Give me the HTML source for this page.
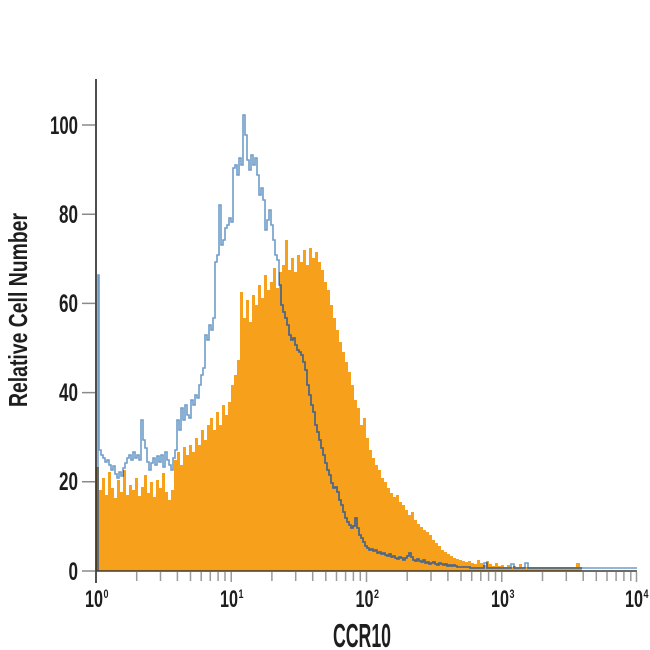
<!DOCTYPE html>
<html>
<head>
<meta charset="utf-8">
<style>
  html, body { margin:0; padding:0; background:#ffffff; }
  svg { display:block; }
  text { font-family: "Liberation Sans Narrow", "Liberation Sans", "DejaVu Sans Condensed", sans-serif; font-weight:bold; fill:#1e1e1e; }
</style>
</head>
<body>
<svg width="650" height="650" viewBox="0 0 650 650" xmlns="http://www.w3.org/2000/svg">
  <defs>
    <clipPath id="oc">
      <path id="orangeShape" d="M96,571 V467 H99 V490 H102 V478 H105 V495 H108 V472 H111 V488 H114 V498 H117 V480 H120 V492 H123 V470 H126 V495 H129 V485 H132 V490 H135 V478 H138 V496 H141 V487 H144 V475 H147 V493 H150 V482 H153 V497 H156 V480 H159 V488 H162 V473 H165 V492 H168 V500 H171 V490 H174 V460 H177 V452 H180 V465 H183 V447 H186 V455 H189 V445 H192 V452 H195 V438 H198 V445 H201 V430 H204 V440 H207 V425 H210 V418 H213 V430 H216 V412 H219 V425 H222 V405 H225 V415 H228 V402 H231 V385 H234 V375 H237 V360 H240 V292 H243 V318 H246 V300 H249 V322 H252 V295 H255 V305 H258 V285 H261 V298 H264 V275 H267 V290 H270 V282 H273 V268 H276 V288 H279 V272 H282 V265 H285 V240 H288 V270 H291 V258 H294 V272 H297 V255 H300 V262 H303 V250 H306 V265 H309 V248 H312 V258 H315 V252 H318 V262 H321 V270 H324 V282 H327 V290 H330 V305 H333 V318 H336 V330 H339 V342 H342 V352 H345 V362 H348 V372 H351 V385 H354 V400 H357 V408 H360 V425 H363 V418 H366 V438 H369 V450 H372 V458 H375 V465 H378 V470 H381 V478 H384 V482 H387 V488 H390 V493 H393 V497 H396 V495 H399 V502 H402 V505 H405 V510 H408 V515 H411 V512 H414 V520 H417 V524 H420 V527 H423 V530 H426 V532 H429 V535 H432 V540 H435 V543 H438 V546 H441 V550 H444 V552 H447 V554 H450 V556 H453 V558 H456 V559 H459 V560 H462 V561 H465 V562 H468 V561 H471 V563 H474 V564 H477 V560 H480 V563 H483 V565 H486 V561 H489 V564 H492 V566 H495 V563 H498 V566 H501 V565 H504 V567 H507 V565 H510 V567 H513 V566 H516 V567 H519 V564 H522 V567 H576 V563 H580 V567 H582 V571 Z"/>
    </clipPath>
  </defs>

  <!-- orange filled histogram -->
  <path d="M96,571 V467 H99 V490 H102 V478 H105 V495 H108 V472 H111 V488 H114 V498 H117 V480 H120 V492 H123 V470 H126 V495 H129 V485 H132 V490 H135 V478 H138 V496 H141 V487 H144 V475 H147 V493 H150 V482 H153 V497 H156 V480 H159 V488 H162 V473 H165 V492 H168 V500 H171 V490 H174 V460 H177 V452 H180 V465 H183 V447 H186 V455 H189 V445 H192 V452 H195 V438 H198 V445 H201 V430 H204 V440 H207 V425 H210 V418 H213 V430 H216 V412 H219 V425 H222 V405 H225 V415 H228 V402 H231 V385 H234 V375 H237 V360 H240 V292 H243 V318 H246 V300 H249 V322 H252 V295 H255 V305 H258 V285 H261 V298 H264 V275 H267 V290 H270 V282 H273 V268 H276 V288 H279 V272 H282 V265 H285 V240 H288 V270 H291 V258 H294 V272 H297 V255 H300 V262 H303 V250 H306 V265 H309 V248 H312 V258 H315 V252 H318 V262 H321 V270 H324 V282 H327 V290 H330 V305 H333 V318 H336 V330 H339 V342 H342 V352 H345 V362 H348 V372 H351 V385 H354 V400 H357 V408 H360 V425 H363 V418 H366 V438 H369 V450 H372 V458 H375 V465 H378 V470 H381 V478 H384 V482 H387 V488 H390 V493 H393 V497 H396 V495 H399 V502 H402 V505 H405 V510 H408 V515 H411 V512 H414 V520 H417 V524 H420 V527 H423 V530 H426 V532 H429 V535 H432 V540 H435 V543 H438 V546 H441 V550 H444 V552 H447 V554 H450 V556 H453 V558 H456 V559 H459 V560 H462 V561 H465 V562 H468 V561 H471 V563 H474 V564 H477 V560 H480 V563 H483 V565 H486 V561 H489 V564 H492 V566 H495 V563 H498 V566 H501 V565 H504 V567 H507 V565 H510 V567 H513 V566 H516 V567 H519 V564 H522 V567 H576 V563 H580 V567 H582 V571 Z" fill="#f6a01c"/>

  <!-- blue outline histogram -->
  <path id="blueLine" d="M98,571 V275 H99 V450 H101 V455 H103 V458 H105 V462 H107 V460 H109 V465 H111 V470 H113 V466 H115 V474 H117 V478 H119 V472 H121 V476 H123 V468 H125 V463 H127 V458 H129 V455 H131 V460 H133 V452 H135 V458 H137 V455 H139 V460 H141 V420 H143 V440 H145 V448 H147 V462 H149 V470 H151 V463 H153 V458 H155 V465 H157 V456 H159 V462 H161 V455 H163 V467 H165 V452 H167 V460 H169 V465 H171 V470 H173 V458 H175 V450 H177 V420 H179 V430 H181 V408 H183 V420 H185 V405 H187 V415 H189 V418 H191 V400 H193 V405 H195 V395 H197 V398 H199 V385 H201 V375 H203 V368 H205 V335 H207 V340 H209 V325 H211 V330 H213 V318 H215 V262 H217 V255 H219 V205 H221 V245 H223 V240 H225 V228 H227 V225 H229 V218 H231 V222 H233 V168 H235 V165 H237 V175 H239 V158 H241 V165 H243 V115 H245 V135 H247 V160 H249 V170 H251 V155 H253 V165 H255 V158 H257 V175 H259 V195 H261 V188 H263 V200 H265 V230 H267 V220 H269 V210 H271 V225 H273 V240 H275 V255 H277 V260 H279 V285 H281 V305 H283 V312 H285 V318 H287 V325 H289 V335 H291 V340 H293 V338 H295 V345 H297 V350 H299 V352 H301 V355 H303 V362 H305 V370 H307 V385 H309 V395 H311 V405 H313 V412 H315 V425 H317 V432 H319 V440 H321 V448 H323 V455 H325 V463 H327 V470 H329 V475 H331 V483 H333 V488 H335 V487 H337 V492 H339 V500 H341 V505 H343 V512 H345 V518 H347 V522 H349 V525 H351 V528 H353 V526 H355 V518 H357 V528 H359 V535 H361 V538 H363 V542 H365 V546 H367 V548 H369 V550 H371 V549 H373 V551 H375 V550 H377 V553 H379 V552 H381 V554 H383 V553 H385 V555 H387 V556 H389 V554 H391 V557 H393 V556 H395 V558 H397 V559 H399 V557 H401 V558 H403 V560 H405 V558 H407 V556 H409 V553 H411 V557 H413 V560 H415 V561 H417 V559 H419 V561 H421 V562 H423 V560 H425 V563 H427 V562 H429 V564 H431 V563 H433 V562 H435 V564 H437 V565 H439 V563 H441 V564 H443 V565 H445 V564 H447 V566 H449 V565 H451 V566 H453 V565 H455 V566 H457 V567 H470 V568 H484 V563 H487 V568 H511 V564 H514 V568 H525 V563 H528 V568 H637" fill="none" stroke="#6e9cc8" stroke-width="1.6"/>
  <!-- darker portion where line overlaps orange -->
  <use href="#blueLine" clip-path="url(#oc)" stroke="#56616d"/>
  <path d="M457,567 V567" fill="none"/>
  <g clip-path="url(#oc)">
    <path d="M98,571 V275 H99 V450 H101 V455 H103 V458 H105 V462 H107 V460 H109 V465 H111 V470 H113 V466 H115 V474 H117 V478 H119 V472 H121 V476 H123 V468 H125 V463 H127 V458 H129 V455 H131 V460 H133 V452 H135 V458 H137 V455 H139 V460 H141 V420 H143 V440 H145 V448 H147 V462 H149 V470 H151 V463 H153 V458 H155 V465 H157 V456 H159 V462 H161 V455 H163 V467 H165 V452 H167 V460 H169 V465 H171 V470 H173 V458 H175 V450 H177 V420 H179 V430 H181 V408 H183 V420 H185 V405 H187 V415 H189 V418 H191 V400 H193 V405 H195 V395 H197 V398 H199 V385 H201 V375 H203 V368 H205 V335 H207 V340 H209 V325 H211 V330 H213 V318 H215 V262 H217 V255 H219 V205 H221 V245 H223 V240 H225 V228 H227 V225 H229 V218 H231 V222 H233 V168 H235 V165 H237 V175 H239 V158 H241 V165 H243 V115 H245 V135 H247 V160 H249 V170 H251 V155 H253 V165 H255 V158 H257 V175 H259 V195 H261 V188 H263 V200 H265 V230 H267 V220 H269 V210 H271 V225 H273 V240 H275 V255 H277 V260 H279 V285 H281 V305 H283 V312 H285 V318 H287 V325 H289 V335 H291 V340 H293 V338 H295 V345 H297 V350 H299 V352 H301 V355 H303 V362 H305 V370 H307 V385 H309 V395 H311 V405 H313 V412 H315 V425 H317 V432 H319 V440 H321 V448 H323 V455 H325 V463 H327 V470 H329 V475 H331 V483 H333 V488 H335 V487 H337 V492 H339 V500 H341 V505 H343 V512 H345 V518 H347 V522 H349 V525 H351 V528 H353 V526 H355 V518 H357 V528 H359 V535 H361 V538 H363 V542 H365 V546 H367 V548 H369 V550 H371 V549 H373 V551 H375 V550 H377 V553 H379 V552 H381 V554 H383 V553 H385 V555 H387 V556 H389 V554 H391 V557 H393 V556 H395 V558 H397 V559 H399 V557 H401 V558 H403 V560 H405 V558 H407 V556 H409 V553 H411 V557 H413 V560 H415 V561 H417 V559 H419 V561 H421 V562 H423 V560 H425 V563 H427 V562 H429 V564 H431 V563 H433 V562 H435 V564 H437 V565 H439 V563 H441 V564 H443 V565 H445 V564 H447 V566 H449 V565 H451 V566 H453 V565 H455 V566 H457 V567 H470 V568 H484 V563 H487 V568 H511 V564 H514 V568 H525 V563 H528 V568 H582" fill="none" stroke="#57616c" stroke-width="1.6"/>
  </g>

  <!-- axes -->
  <line x1="96" y1="79" x2="96" y2="571" stroke="#222" stroke-width="1.6"/>
  <line x1="96" y1="571" x2="637" y2="571" stroke="#3a3a3a" stroke-width="1.6"/>

  <!-- y ticks -->
  <path d="M82,571 H95 M82,481.8 H95 M82,392.6 H95 M82,303.4 H95 M82,214.2 H95 M82,125 H95" stroke="#8a8a8a" stroke-width="1.5"/>

  <!-- x ticks -->
  <path d="M96,571 V583 M231.25,572 V582 M366.5,572 V582 M501.75,572 V582 M636.5,572 V582
           M136.7,572 V581 M160.5,572 V581 M177.4,572 V581 M190.5,572 V581 M201.2,572 V581 M210.3,572 V581 M218.1,572 V581 M225,572 V581
           M271.9,572 V581 M295.7,572 V581 M312.7,572 V581 M325.8,572 V581 M336.5,572 V581 M345.6,572 V581 M353.4,572 V581 M360.3,572 V581
           M407.2,572 V581 M431,572 V581 M447.9,572 V581 M461,572 V581 M471.7,572 V581 M480.8,572 V581 M488.6,572 V581 M495.5,572 V581
           M542.5,572 V581 M566.3,572 V581 M583.2,572 V581 M596.3,572 V581 M607,572 V581 M616.1,572 V581 M623.9,572 V581 M630.8,572 V581" stroke="#9a9a9a" stroke-width="1.5"/>
  <line x1="96" y1="571" x2="96" y2="583" stroke="#333" stroke-width="1.6"/>

  <!-- y tick labels -->
  <text x="78" y="134" font-size="25" text-anchor="end" textLength="28" lengthAdjust="spacingAndGlyphs">100</text>
  <text x="78" y="223" font-size="25" text-anchor="end" textLength="19" lengthAdjust="spacingAndGlyphs">80</text>
  <text x="78" y="312" font-size="25" text-anchor="end" textLength="19" lengthAdjust="spacingAndGlyphs">60</text>
  <text x="78" y="401" font-size="25" text-anchor="end" textLength="19" lengthAdjust="spacingAndGlyphs">40</text>
  <text x="78" y="490" font-size="25" text-anchor="end" textLength="19" lengthAdjust="spacingAndGlyphs">20</text>
  <text x="78" y="580" font-size="25" text-anchor="end" textLength="9.5" lengthAdjust="spacingAndGlyphs">0</text>

  <!-- x tick labels -->
  <text x="85" y="607" font-size="24" textLength="18" lengthAdjust="spacingAndGlyphs">10</text>
  <text x="103.5" y="598" font-size="12" textLength="5" lengthAdjust="spacingAndGlyphs">0</text>
  <text x="220" y="607" font-size="24" textLength="18" lengthAdjust="spacingAndGlyphs">10</text>
  <text x="238.5" y="598" font-size="12" textLength="5" lengthAdjust="spacingAndGlyphs">1</text>
  <text x="355.5" y="607" font-size="24" textLength="18" lengthAdjust="spacingAndGlyphs">10</text>
  <text x="374" y="598" font-size="12" textLength="5" lengthAdjust="spacingAndGlyphs">2</text>
  <text x="491" y="607" font-size="24" textLength="18" lengthAdjust="spacingAndGlyphs">10</text>
  <text x="509.5" y="598" font-size="12" textLength="5" lengthAdjust="spacingAndGlyphs">3</text>
  <text x="625" y="607" font-size="24" textLength="18" lengthAdjust="spacingAndGlyphs">10</text>
  <text x="643.5" y="598" font-size="12" textLength="5" lengthAdjust="spacingAndGlyphs">4</text>

  <!-- axis titles -->
  <text x="333" y="647" font-size="33" textLength="58" lengthAdjust="spacingAndGlyphs">CCR10</text>
  <text transform="translate(27,407) rotate(-90)" x="0" y="0" font-size="26" textLength="194" lengthAdjust="spacingAndGlyphs">Relative Cell Number</text>
</svg>
</body>
</html>
